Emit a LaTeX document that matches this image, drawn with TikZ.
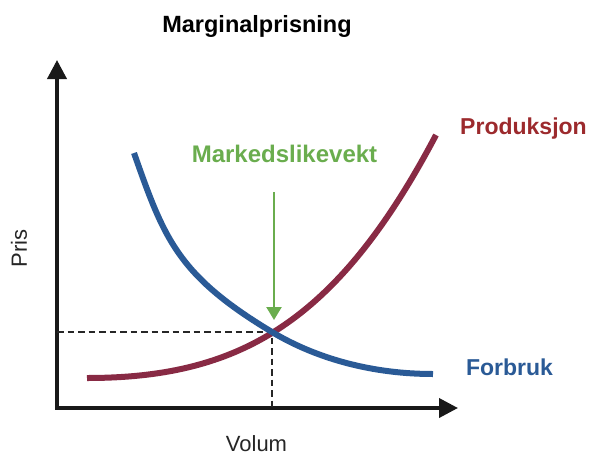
\documentclass[tikz,border=0pt]{standalone}
\usepackage{fontspec}
\setmainfont{Liberation Sans}
\usepackage{tikz}
\usetikzlibrary{arrows.meta, positioning, calc}
\definecolor{prodred}{RGB}{136,42,68}
\definecolor{prodtext}{RGB}{156,42,45}
\definecolor{consblue}{RGB}{42,90,150}
\definecolor{eqgreen}{RGB}{106,173,78}
\tikzset{
    % Axes
    axis/.style={line width=3.8pt, black!90, {Triangle[length=19pt,width=19pt]}-{Triangle[length=19pt,width=19pt]}},
    axlbl/.style={font=\fontsize{22}{24}\selectfont, text=black!85, inner sep=0pt},
    % Curves
    curve/.style={line width=6pt, #1, line cap=butt},
    curvelbl/.style={font=\fontsize{23}{26}\selectfont\bfseries, text=#1, inner sep=0pt, anchor=base},
    % Guide lines
    guide/.style={line width=2.8pt, black!85, dash pattern=on 6.5pt off 4pt},
    eqarrow/.style={-{Triangle[length=13pt,width=15pt]}, line width=2.3pt, eqgreen},
}

\begin{document}
\begin{tikzpicture}[x=1pt, y=-1pt]
\useasboundingbox (0,0) rectangle (590,456);

% Title
\node[font=\fontsize{23.5}{26}\selectfont\bfseries, inner sep=0pt, anchor=base] (title) at (257,32) {Marginalprisning};

% Axes
\coordinate (o) at (57,408);
\coordinate (ytip) at (57,60);
\coordinate (xtip) at (458,408);
\draw[axis, line join=miter] (ytip) -- (o) -- (xtip);
\node[axlbl, anchor=base] (volum) at (256.5,451) {Volum};
\node[axlbl, rotate=90, anchor=base] (pris) at (27,248.5) {Pris};

% Equilibrium point
\coordinate (eq) at (272,332);

% Dashed guides
\draw[guide] (o |- eq) -- (eq) -- (eq |- o);

% Production curve
\draw[curve=prodred] (87,378) .. controls (237,378) and (336,325) .. (436,135);

% Consumption curve
\draw[curve=consblue] (134,153) .. controls (164,238) and (177,275) .. (eq)
    .. controls (317,359) and (373,374) .. (433,374);

% Labels
\node[curvelbl=prodtext] (prod) at (523.5,134) {Produksjon};
\node[curvelbl=consblue] (cons) at (509.5,375) {Forbruk};
\node[curvelbl=eqgreen, font=\fontsize{24}{26}\selectfont\bfseries] (mark) at (284.5,162) {Markedslikevekt};

% Arrow to equilibrium
\coordinate (arrtop) at (274,192);
\coordinate (arrtip) at (274,320);
\draw[eqarrow] (arrtop) -- (arrtip);

\end{tikzpicture}
\end{document}
